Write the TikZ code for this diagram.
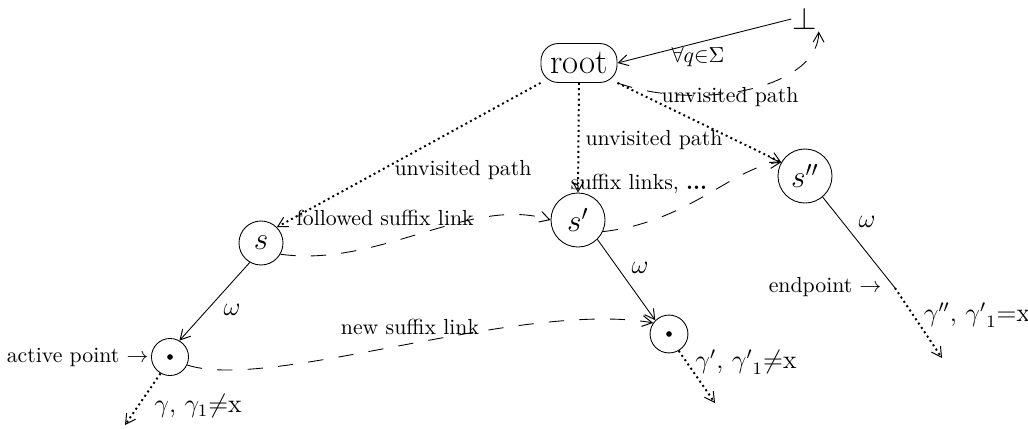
\documentclass[tikz,border=0pt]{standalone}
\usetikzlibrary{arrows.meta}
\begin{document}
\begin{tikzpicture}[x=0.459pt,y=-0.459pt,
  arr/.style={-{Straight Barb[length=4.5pt,width=5pt,line width=0.45pt]}},
  circ/.style={draw, circle, inner sep=0pt, thin},
  dotline/.style={line width=0.9pt, dash pattern=on 0.9pt off 1.5pt},
  dashline/.style={thin, dash pattern=on 7pt off 7pt},
  lbl/.style={inner sep=1pt}]
\useasboundingbox (0,0) rectangle (1028,428);

% nodes
\node[draw, thin, rounded corners=8pt, minimum width=34.9pt, minimum height=17.9pt, inner sep=1pt, font=\fontsize{16}{18}\selectfont] (root) at (579,63) {root};
\node[inner sep=0.5pt, font=\Large] (bot) at (805,19) {$\perp$};
\node[circ, minimum size=20.2pt, font=\Large] (s) at (261,243) {$s$};
\node[circ, minimum size=24.8pt, font=\Large] (s1) at (578,220) {$s'$};
\node[circ, minimum size=24.8pt, font=\Large] (s2) at (805,176) {$s''$};
\node[circ, minimum size=17pt] (ap) at (170,357) {};
\node[circ, minimum size=17.4pt] (p2) at (669,334) {};
\fill (ap.center) circle (1.3pt);
\fill (p2.center) circle (1.3pt);

\coordinate (ep) at (895,288);
\coordinate (g0) at (125,425);
\coordinate (g1) at (715,403);
\coordinate (g2) at (942,358);

% root <-> bottom
\draw[arr, thin] (bot.west) -- (root.east);
\draw[arr, dashline] (root.south east) .. controls (700,112) and (818,88) .. (bot.south east);

% unvisited paths
\draw[arr, dotline] (root.south west) -- (s.north east);
\draw[arr, dotline] (root.south) -- (s1.north);
\draw[arr, dotline] (root.south east) -- (s2.150);

% suffix links
\draw[arr, dashline] (s.-30) .. controls (380,268) and (470,195) .. (s1.west);
\draw[arr, dashline] (s1.-25) .. controls (690,222) and (735,165) .. (s2.150);
\draw[arr, dashline] (ap.-25) .. controls (270,392) and (520,300) .. (p2.145);

% omega edges
\draw[arr, thin] (s.240) -- (ap.60);
\draw[arr, thin] (s1.-45) -- (p2.north west);
\draw[thin] (s2.-50) -- (ep);

% gamma paths
\draw[arr, dotline] (ap.240) -- (g0);
\draw[arr, dotline] (p2.-60) -- (g1);
\draw[arr, dotline] (ep) -- (g2);

% labels
\node[lbl] (l1) at (698,57) {$\forall q{\in}\Sigma$};
\node[lbl] (l2) at (730,97) {unvisited path};
\node[lbl] (l3) at (654,140) {unvisited path};
\node[lbl] (l4) at (463,170) {unvisited path};
\node[lbl] (l5) at (639,184) {suffix links, \textbf{...}};
\node[lbl] (l6) at (385,218) {followed suffix link};
\node[lbl] (l7) at (410,327) {new suffix link};
\node[lbl, font=\large] (w1) at (232,310) {$\omega$};
\node[lbl, font=\large] (w2) at (640,268) {$\omega$};
\node[lbl, font=\large] (w3) at (867,222) {$\omega$};
\node[lbl, anchor=east] (act) at (ap.west) {active point $\rightarrow$};
\node[lbl, anchor=east] (endp) at (884,287) {endpoint $\rightarrow$};
\node[lbl, font=\large] (ga) at (198,406) {$\gamma$, ${\gamma}_1{\neq}$x};
\node[lbl, font=\large] (gb) at (746,362) {$\gamma'$, ${\gamma'}_1{\neq}$x};
\node[lbl, font=\large] (gc) at (977,315) {$\gamma''$, ${\gamma'}_1{=}$x};
\end{tikzpicture}
\end{document}
